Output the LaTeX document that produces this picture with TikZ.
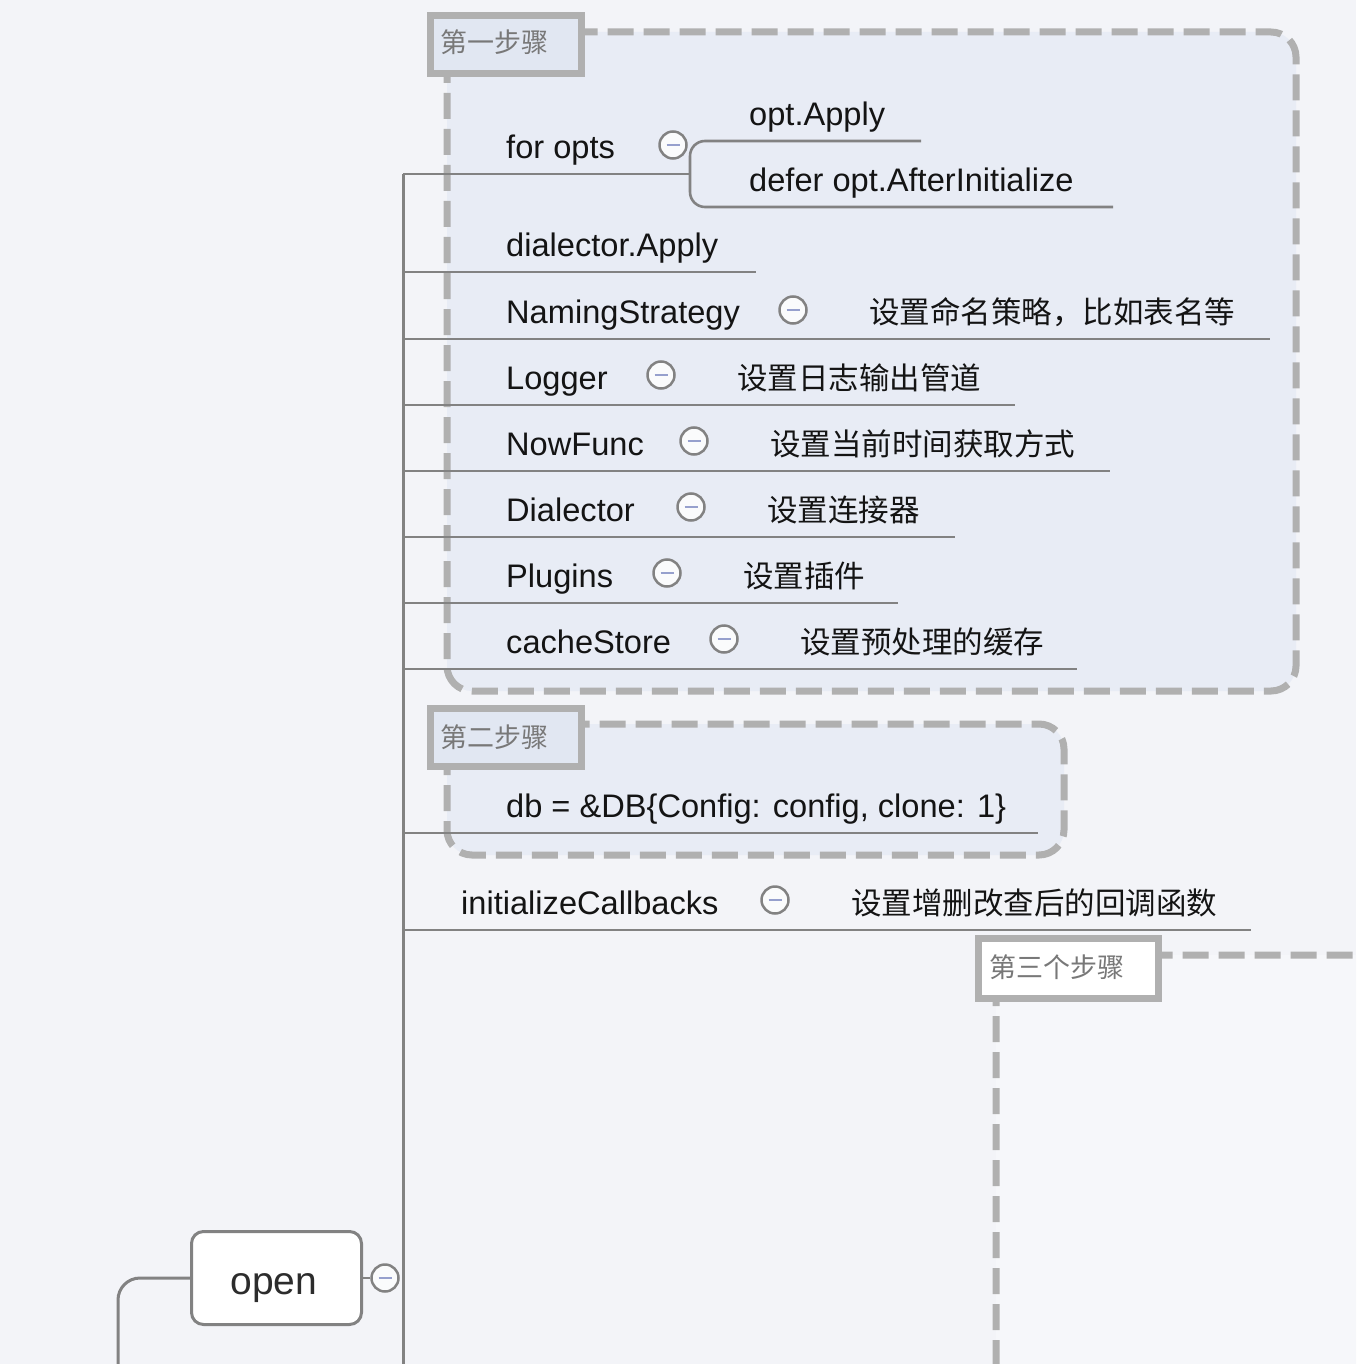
\documentclass[tikz,border=0pt]{standalone}
\usepackage{fontspec}
\setmainfont{Liberation Sans}
\newfontfamily\cjk{Noto Sans CJK SC}
\definecolor{bgc}{RGB}{243,244,248}
\definecolor{boxfill}{RGB}{232,236,245}
\definecolor{box3fill}{RGB}{246,247,250}
\definecolor{labfill}{RGB}{225,231,242}
\definecolor{dashc}{RGB}{176,176,176}
\definecolor{linec}{RGB}{130,130,130}
\definecolor{textc}{RGB}{20,20,20}
\definecolor{stepc}{RGB}{120,120,120}
\definecolor{minusc}{RGB}{150,160,205}
\begin{document}
\begin{tikzpicture}[x=1pt,y=-1pt,
  stepbox/.style={draw=dashc, line width=7pt, dash pattern=on 26pt off 10pt, rounded corners=25pt},
  steplabel/.style={rectangle, draw=dashc, line width=7pt, fill=labfill, inner sep=0pt},
  txt/.style={anchor=base west, inner sep=0pt, font=\fontsize{32.6}{38}\selectfont, text=textc},
  cn/.style={anchor=base west, inner sep=0pt, font=\cjk\fontsize{30.5}{36}\selectfont, text=textc},
  steptxt/.style={anchor=base west, inner sep=0pt, font=\cjk\fontsize{27}{32}\selectfont, text=stepc},
  branch/.style={draw=linec, line width=2.6pt},
  collapse/.style={circle, draw=linec, line width=2.5pt, fill=white!60!bgc, minimum size=27pt, inner sep=0pt,
    path picture={\draw[minusc, line width=2.6pt] ([xshift=-6.5pt]path picture bounding box.center) -- ([xshift=6.5pt]path picture bounding box.center);}},
  opennode/.style={rectangle, draw=linec, line width=3pt, fill=white, rounded corners=12pt, minimum width=170pt, minimum height=93pt},
  opentxt/.style={anchor=base, inner sep=0pt, font=\fontsize{39}{46}\selectfont, text=textc!90!white}
]
\useasboundingbox (0,0) rectangle (1356,1364);
\clip (0,0) rectangle (1356,1364);
\fill[bgc] (0,0) rectangle (1356,1364);

% dashed group boxes
\path[stepbox, fill=boxfill] (447,32) rectangle (1296,691);
\path[stepbox, fill=boxfill] (447,724) rectangle (1064,855);
\path[stepbox, fill=box3fill] (996,955) rectangle (1420,1440);

% step labels
\node[steplabel, minimum width=151pt, minimum height=58pt] (s1) at (506,44.5) {};
\node[steptxt] (s1t) at (440,53) {第一步骤};
\node[steplabel, minimum width=151pt, minimum height=58pt] (s2) at (506,737.5) {};
\node[steptxt] (s2t) at (440,747) {第二步骤};
\node[steplabel, fill=white, minimum width=180pt, minimum height=60pt] (s3) at (1068.5,968.5) {};
\node[steptxt] (s3t) at (989,977) {第三个步骤};

% tree coordinates
\coordinate (top) at (403,174);
\coordinate (bot) at (403,1380);
\draw[branch, line width=3pt] (top) -- (bot);

\coordinate (e0) at (690,174);
\draw[branch] (top) -- (e0);
\draw[branch, rounded corners=15pt] (921,141) -- (690,141) -- (690,207) -- (1113,207);

\foreach \y/\e in {272/756, 339/1270, 405/1015, 471/1110, 537/955, 603/898, 669/1077, 833/1038, 930/1251}{
  \coordinate (l\y) at (403,\y);
  \coordinate (r\y) at (\e,\y);
  \draw[branch] (l\y) -- (r\y);
}

% texts
\node[txt] (foropts) at (506,159) {for opts};
\node[txt] (optapply) at (749,126) {opt.Apply};
\node[txt] (defer) at (749,192) {defer opt.AfterInitialize};
\node[txt] (dialapply) at (506,257) {dialector.Apply};
\node[txt] (naming) at (506,323) {NamingStrategy};
\node[cn] (namingcn) at (869,323) {设置命名策略，比如表名等};
\node[txt] (logger) at (506,389) {Logger};
\node[cn] (loggercn) at (737,389) {设置日志输出管道};
\node[txt] (nowfunc) at (506,455) {NowFunc};
\node[cn] (nowfunccn) at (770,455) {设置当前时间获取方式};
\node[txt] (dialector) at (506,521) {Dialector};
\node[cn] (dialectorcn) at (767,521) {设置连接器};
\node[txt] (plugins) at (506,587) {Plugins};
\node[cn] (pluginscn) at (743,587) {设置插件};
\node[txt] (cache) at (506,653) {cacheStore};
\node[cn] (cachecn) at (800,653) {设置预处理的缓存};
\node[txt] (db) at (506,817) {db = \&DB\{Config: config, clone: 1\}};
\node[txt] (init) at (461,914) {initializeCallbacks};
\node[cn] (initcn) at (851,914) {设置增删改查后的回调函数};

% collapse markers
\node[collapse] (c0) at (673,145) {};
\node[collapse] (c1) at (793,310) {};
\node[collapse] (c2) at (661,375) {};
\node[collapse] (c3) at (694,441) {};
\node[collapse] (c4) at (691,507) {};
\node[collapse] (c5) at (667,573) {};
\node[collapse] (c6) at (724,639) {};
\node[collapse] (c7) at (775,900) {};

% open node
\node[opennode] (open) at (276.5,1278) {};
\node[opentxt] (opent) at (274,1294) {open};
\coordinate (leftdown) at (118,1390);
\draw[branch, line width=3pt, rounded corners=22pt] (open.west) -- (118,1278) -- (leftdown);
\node[collapse] (co) at (385,1278) {};
\draw[branch] (open.east) -- (co.west);
\end{tikzpicture}
\end{document}
